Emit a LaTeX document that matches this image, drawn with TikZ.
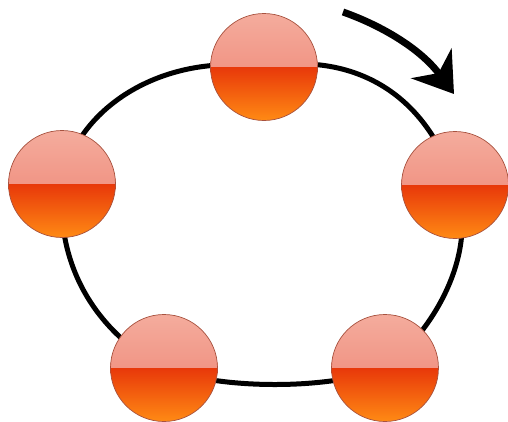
\documentclass[tikz,border=0pt]{standalone}
\usetikzlibrary{arrows.meta}
\definecolor{topA}{HTML}{F4AC9D}
\definecolor{topB}{HTML}{EE7F6E}
\definecolor{botA}{HTML}{E8380A}
\definecolor{botB}{HTML}{FF8A14}
\definecolor{rim}{HTML}{A8523F}
\tikzset{
  ball/.style={circle, minimum size=107pt, inner sep=0pt, draw=rim, line width=0.7pt,
    path picture={
      \shade[top color=topA, bottom color=topB]
        (path picture bounding box.north west) rectangle (path picture bounding box.east);
      \shade[top color=botA, bottom color=botB]
        (path picture bounding box.west) rectangle (path picture bounding box.south east);
    }},
  ring/.style={line width=5pt, draw=black},
  turnarrow/.style={line width=7pt, -{Stealth[length=38pt, width=50pt, inset=12pt]}}
}
\begin{document}
\begin{tikzpicture}[x=1pt,y=-1pt]
\useasboundingbox (0,0) rectangle (508,421);
\coordinate (p1) at (264,67);
\coordinate (p2) at (455,185);
\coordinate (p3) at (385,368);
\coordinate (p4) at (164,368);
\coordinate (p5) at (62,184);
\draw[ring] (p1) .. controls (350,52) and (425,90) .. (p2)
  .. controls (480,250) and (435,330) .. (p3)
  .. controls (330,390) and (220,390) .. (p4)
  .. controls (110,340) and (55,280) .. (p5)
  .. controls (75,110) and (160,52) .. (p1) -- cycle;
\node[ball] (top) at (p1) {};
\node[ball] (right) at (p2) {};
\node[ball] (br) at (p3) {};
\node[ball] (bl) at (p4) {};
\node[ball] (left) at (p5) {};
\coordinate (as) at (343,12);
\coordinate (at) at (454,94);
\draw[turnarrow] (as) .. controls (380,25) and (420,48) .. (at);
\end{tikzpicture}
\end{document}
